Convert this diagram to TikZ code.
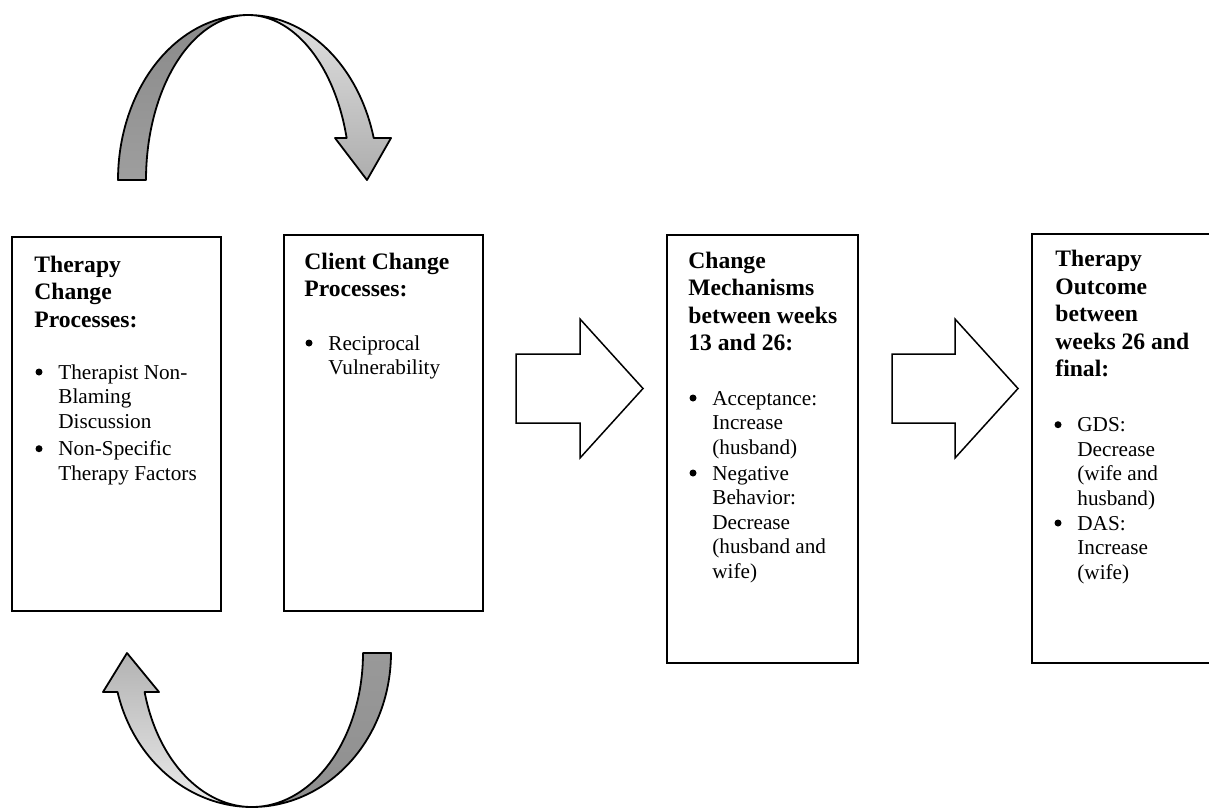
\documentclass[tikz,border=0pt]{standalone}
\usepackage{fontspec}
\setmainfont{Liberation Serif}
\begin{document}
\begin{tikzpicture}[x=0.5pt,y=-0.5pt,
  box/.style={draw=black, line width=1pt, fill=white},
  blockarrow/.style={draw=black, line width=0.75pt, fill=white, line join=miter},
  band/.style={draw=black, line width=0.9pt, line join=round},
  title/.style={anchor=base west, inner sep=0pt, font=\fontsize{11.8}{13.75}\selectfont\bfseries},
  body/.style={anchor=base west, inner sep=0pt, font=\fontsize{10.6}{12.3}\selectfont},
  bul/.style={circle, fill=black, inner sep=0pt, minimum size=3.5pt, yshift=3.5pt}]
\useasboundingbox (0,0) rectangle (1209,810);
\begin{scope}
\clip (0,0) rectangle (1209,810);

% ---- top curved arrow ----
\draw[band, top color=black!12, bottom color=black!32]
  plot[domain=90:14.75,samples=60] ({248+130*cos(\x)},{180-165*sin(\x)})
  -- (391,138) -- (367,180) -- (335,138)
  -- plot[domain=14.75:90,samples=60] ({248+102*cos(\x)},{180-165*sin(\x)}) -- cycle;
\draw[band, top color=black!46, bottom color=black!38]
  plot[domain=180:90,samples=60] ({248+130*cos(\x)},{180-165*sin(\x)})
  -- plot[domain=90:180,samples=60] ({248+102*cos(\x)},{180-165*sin(\x)}) -- cycle;

% ---- bottom curved arrow ----
\draw[band, top color=black!30, bottom color=black!8]
  plot[domain=90:165.34,samples=60] ({252+139*cos(\x)},{653+154*sin(\x)})
  -- (103,692) -- (127,653) -- (159,692)
  -- plot[domain=165.34:90,samples=60] ({252+111*cos(\x)},{653+154*sin(\x)}) -- cycle;
\draw[band, top color=black!40, bottom color=black!44]
  plot[domain=0:90,samples=60] ({252+139*cos(\x)},{653+154*sin(\x)})
  -- plot[domain=90:0,samples=60] ({252+111*cos(\x)},{653+154*sin(\x)}) -- cycle;

% ---- boxes ----
\draw[box] (12,237) rectangle (221,611);
\draw[box] (284,235) rectangle (483,611);
\draw[box] (667,235) rectangle (858,663);
\draw[box] (1032,234) rectangle (1240,663);

% ---- block arrows ----
\draw[blockarrow] (516,354) -- (580,354) -- (580,319) -- (643,388.5) -- (580,458) -- (580,423) -- (516,423) -- cycle;
\draw[blockarrow] (892,354) -- (955,354) -- (955,319) -- (1018,388.5) -- (955,458) -- (955,423) -- (892,423) -- cycle;
\end{scope}

% ---- box 1 text ----
\node[title] (t1) at (34,272) {\parbox[t]{180pt}{Therapy\\Change\\Processes:}};
\node[bul] (b1a) at (39,379) {};
\node[body] (i1a) at (58,379) {\parbox[t]{180pt}{Therapist Non-\\Blaming\\Discussion}};
\node[bul] (b1b) at (39,455.7) {};
\node[body] (i1b) at (58,455.7) {\parbox[t]{180pt}{Non-Specific\\Therapy Factors}};

% ---- box 2 text ----
\node[title] (t2) at (304,269.3) {\parbox[t]{180pt}{Client Change\\Processes:}};
\node[bul] (b2a) at (309,350) {};
\node[body] (i2a) at (328,350) {\parbox[t]{180pt}{Reciprocal\\Vulnerability}};

% ---- box 3 text ----
\node[title] (t3) at (688,268.3) {\parbox[t]{180pt}{Change\\Mechanisms\\between weeks\\13 and 26:}};
\node[bul] (b3a) at (693,405) {};
\node[body] (i3a) at (712,405) {\parbox[t]{180pt}{Acceptance:\\Increase\\(husband)}};
\node[bul] (b3b) at (693,480) {};
\node[body] (i3b) at (712,480) {\parbox[t]{180pt}{Negative\\Behavior:\\Decrease\\(husband and\\wife)}};

% ---- box 4 text ----
\node[title] (t4) at (1055,266.7) {\parbox[t]{180pt}{Therapy\\Outcome\\between\\weeks 26 and\\final:}};
\node[bul] (b4a) at (1058,431.7) {};
\node[body] (i4a) at (1077,431.7) {\parbox[t]{180pt}{GDS:\\Decrease\\(wife and\\husband)}};
\node[bul] (b4b) at (1058,530) {};
\node[body] (i4b) at (1077,530) {\parbox[t]{180pt}{DAS:\\Increase\\(wife)}};
\end{tikzpicture}
\end{document}
